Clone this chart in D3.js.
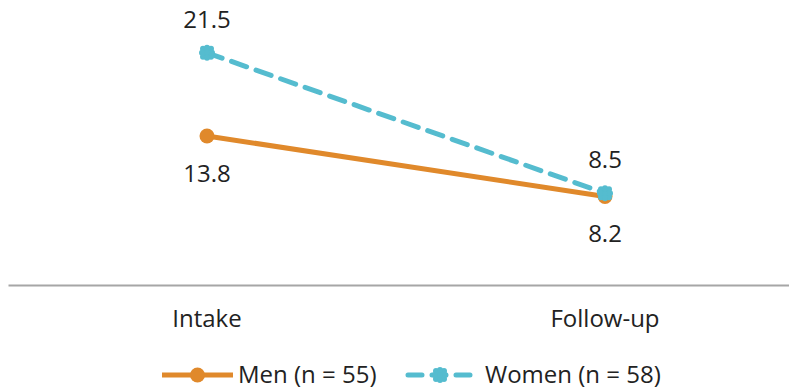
<!DOCTYPE html>
<html><head><meta charset="utf-8">
<script src="https://cdn.jsdelivr.net/npm/d3@7"></script>
<style>body{margin:0;background:#fff}svg{display:block}text{font-family:"Open Sans",sans-serif;fill:#222}</style>
</head><body><svg id="c" width="789" height="390"></svg>
<script>
const categories = ["Intake", "Follow-up"];
const menValues = [13.8, 8.2];
const womenValues = [21.5, 8.5];
const seriesNames = ["Men (n = 55)", "Women (n = 58)"];

const svg = d3.select("#c");
const fs = 24;
const x = d3.scaleBand().domain(categories).range([8, 804]);
const y = d3.scaleLinear().domain([0, 25]).range([285, 15]);
const cx = d => x(d) + x.bandwidth() / 2;

// axis
svg.append("g").attr("transform", "translate(0,285)")
  .call(d3.axisBottom(x).tickSize(0).tickPadding(25))
  .call(g => { g.select(".domain").attr("stroke", "#a6a6a6").attr("stroke-width", 2);
    g.selectAll("text").style("font-family", '"Open Sans",sans-serif').style("font-size", fs + "px").attr("fill", "#222"); });

const series = [
  {name: seriesNames[0], values: menValues, color: "#e0892b", dash: null},
  {name: seriesNames[1], values: womenValues, color: "#55bccf", dash: "16,10"}
];
const line = d3.line().x((d, i) => cx(categories[i])).y(d => y(d));

function marker(g, px, py, s) {
  if (s.dash) {
    g.append("circle").attr("cx", px).attr("cy", py).attr("r", 6).attr("fill", s.color);
    [[-4,-4],[4,-4],[-4,4],[4,4],[0,-5],[0,5],[-5,0],[5,0]].forEach(o =>
      g.append("circle").attr("cx", px + o[0]).attr("cy", py + o[1]).attr("r", 3).attr("fill", s.color));
  } else {
    g.append("circle").attr("cx", px).attr("cy", py).attr("r", 7.5).attr("fill", s.color);
  }
}

series.forEach(s => {
  svg.append("path").datum(s.values).attr("d", line).attr("fill", "none")
    .attr("stroke", s.color).attr("stroke-width", 5).attr("stroke-dasharray", s.dash)
    .attr("stroke-linecap", s.dash ? "round" : "butt");
});
series.forEach(s => {
  s.values.forEach((v, i) => marker(svg, cx(categories[i]), y(v), s));
});
const labels = [
  {v: womenValues[0], c: 0, above: true},
  {v: menValues[0], c: 0, above: false},
  {v: womenValues[1], c: 1, above: true},
  {v: menValues[1], c: 1, above: false}
];
labels.forEach(l => {
  svg.append("text").attr("x", cx(categories[l.c]))
    .attr("y", l.above ? y(l.v) - 25 : y(l.v) + 46)
    .attr("text-anchor", "middle").style("font-size", fs + "px").text(l.v.toFixed(1));
});

// legend
const lg = svg.append("g");
const ly = 375;
const legItems = [{s: series[0], x0: 162, x1: 233, tx: 238}, {s: series[1], x0: 408, x1: 472, tx: 485}];
legItems.forEach(it => {
  lg.append("line").attr("x1", it.x0).attr("x2", it.x1).attr("y1", ly).attr("y2", ly)
    .attr("stroke", it.s.color).attr("stroke-width", 5)
    .attr("stroke-dasharray", it.s.dash ? "14,10" : null).attr("stroke-linecap", it.s.dash ? "round" : "butt");
  marker(lg, (it.x0 + it.x1) / 2, ly, it.s);
  lg.append("text").attr("x", it.tx).attr("y", ly + 8).style("font-size", fs + "px").text(it.s.name);
});
</script></body></html>
